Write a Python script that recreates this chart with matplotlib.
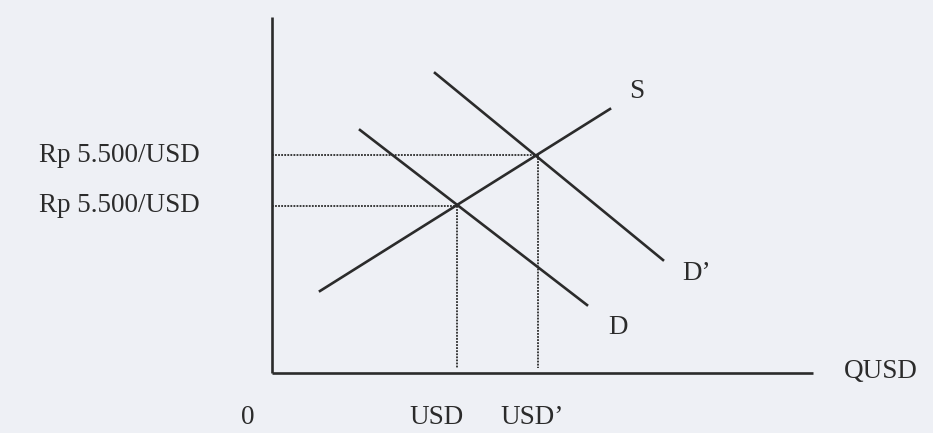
import matplotlib
matplotlib.use('Agg')
import matplotlib.pyplot as plt

# schematic supply / demand for USD (units: arbitrary, origin at axis corner)
s_q = [48, 338]
s_p = [82, 264]
d_q = [88, 315]
d_p = [243, 68]
d2_q = [163, 391]
d2_p = [300, 113]

# equilibrium points (old D, new D')
eq_q = [185, 266]
eq_p = [167, 218]
eq_labels = ['USD', 'USD\u2019']
price_labels = ['Rp 5.500/USD', 'Rp 5.500/USD']

x_max = 541
y_max = 356

ink = '#2b2b2b'
bg = '#eef0f5'

fig = plt.figure(figsize=(9.33, 4.33), dpi=100)
fig.patch.set_facecolor(bg)
ax = fig.add_axes([0, 0, 1, 1])
ax.set_facecolor(bg)
ax.set_xlim(-272, 661)
ax.set_ylim(-60, 373)
ax.axis('off')

font = dict(family='Liberation Serif', size=19.5, color=ink)

# axes
ax.plot([0, 0], [0, y_max], color=ink, lw=1.9, solid_capstyle='butt')
ax.plot([0, x_max], [0, 0], color=ink, lw=1.9, solid_capstyle='butt')

# curves
ax.plot(s_q, s_p, color=ink, lw=1.9)
ax.plot(d_q, d_p, color=ink, lw=1.9)
ax.plot(d2_q, d2_p, color=ink, lw=1.9)

# dotted guides
for q, p in zip(eq_q, eq_p):
    ax.plot([0, q], [p, p], color=ink, lw=1.3, ls=(0, (1.0, 0.7)))
    ax.plot([q, q], [p, 5], color=ink, lw=1.3, ls=(0, (1.0, 0.7)))

# labels
ax.text(365, 281, 'S', ha='center', va='center', **font)
ax.text(425, 100, 'D\u2019', ha='center', va='center', **font)
ax.text(346, 46, 'D', ha='center', va='center', **font)
ax.text(572, 1, 'QUSD', ha='left', va='center', **font)
ax.text(-24, -45, '0', ha='center', va='center', **font)
for q, lab in zip(eq_q, eq_labels):
    ax.text(q - 20 if lab == 'USD' else q - 6, -45, lab, ha='center', va='center', **font)
for p, lab in zip(eq_p[::-1], price_labels):
    ax.text(-72, p, lab, ha='right', va='center', **font)

fig.savefig('out.png', dpi=100, facecolor=bg)
